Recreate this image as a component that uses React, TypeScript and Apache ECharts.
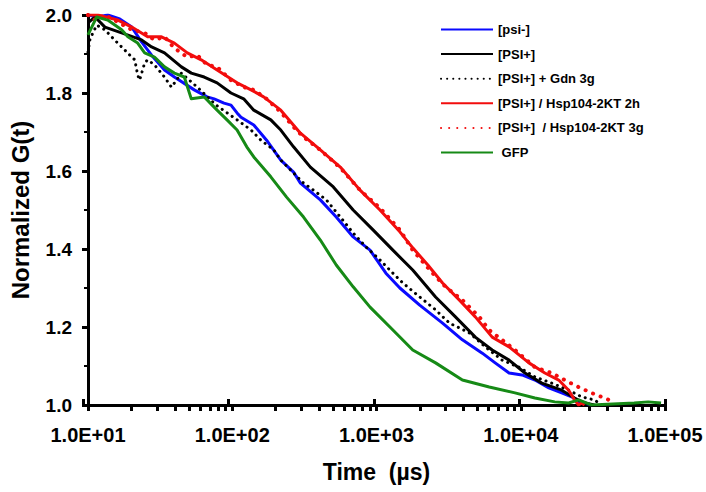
import React, { useEffect, useRef } from 'react';
import * as echarts from 'echarts';

const FONT = '"Liberation Sans", Arial, Helvetica, sans-serif';

// Axis ticks / labels
const xTickLabels = ['1.0E+01', '1.0E+02', '1.0E+03', '1.0E+04', '1.0E+05'];
const xDecades = [10, 100, 1000, 10000, 100000];
const xMinorMultipliers = [2, 3, 4, 5, 6, 7, 8, 9];

const seriesNames = [
  '[psi-]',
  '[PSI+]',
  '[PSI+] + Gdn 3g',
  '[PSI+] / Hsp104-2KT 2h',
  '[PSI+]  / Hsp104-2KT 3g',
  ' GFP',
];

// [psi-]
const psiMinusT = [10, 11.7, 13.7, 16.6, 20.1, 23.5, 27.6, 33.9, 39.7, 54.5, 67, 74.9, 87.7, 98, 108, 115, 141, 173, 217, 266, 297, 408, 526, 689, 902, 1162, 1452, 1993, 2870, 3939, 5410, 6647, 8300, 10200, 12540, 15650, 19230, 22540, 25180, 27690, 30950];
const psiMinusG = [2.0, 1.995, 2.0, 1.99, 1.969, 1.931, 1.897, 1.859, 1.841, 1.808, 1.79, 1.785, 1.774, 1.769, 1.749, 1.738, 1.718, 1.679, 1.628, 1.597, 1.569, 1.526, 1.482, 1.431, 1.397, 1.338, 1.3, 1.256, 1.21, 1.167, 1.133, 1.108, 1.082, 1.077, 1.064, 1.044, 1.031, 1.021, 1.008, 1.005, 1.0];

// [PSI+]
const psiPlusT = [10, 11.2, 13.1, 17.1, 23.5, 27.6, 33.9, 44.4, 52, 63.9, 78.5, 98, 120, 141, 185, 217, 266, 348, 502, 689, 946, 1299, 1783, 2568, 3526, 4842, 6338, 8300, 10700, 14000, 19230, 23630, 27690, 32450];
const psiPlusG = [1.98, 1.995, 1.969, 1.954, 1.936, 1.918, 1.903, 1.867, 1.851, 1.841, 1.826, 1.8, 1.785, 1.756, 1.731, 1.705, 1.662, 1.61, 1.559, 1.5, 1.449, 1.397, 1.346, 1.277, 1.226, 1.174, 1.141, 1.115, 1.082, 1.056, 1.038, 1.018, 1.005, 1.0];

// [PSI+] + Gdn 3g
const gdnT = [10, 10.3, 10.8, 11.5, 13.1, 15.3, 18, 19.5, 21.1, 22.1, 22.8, 24.7, 25.9, 28.9, 33.9, 37.9, 44.4, 57.2, 77.3, 108, 135, 158, 194, 217, 266, 312, 365, 449, 561, 689, 847, 1057, 1299, 1521, 1993, 2568, 3206, 4402, 5672, 7430, 9720, 12540, 16410, 21480, 26410, 32450, 36260];
const gdnG = [1.905, 1.936, 1.954, 1.974, 1.962, 1.936, 1.91, 1.897, 1.885, 1.846, 1.833, 1.877, 1.885, 1.872, 1.841, 1.815, 1.851, 1.815, 1.769, 1.731, 1.705, 1.679, 1.654, 1.628, 1.595, 1.569, 1.551, 1.526, 1.482, 1.441, 1.405, 1.372, 1.338, 1.313, 1.277, 1.244, 1.21, 1.185, 1.149, 1.115, 1.097, 1.072, 1.056, 1.038, 1.021, 1.013, 1.0];

// [PSI+] / Hsp104-2KT 2h
const hsp2hT = [10, 11.7, 16.1, 20.1, 25.9, 32.3, 39.7, 48.8, 60.9, 78.5, 108, 135, 165, 217, 297, 408, 561, 769, 1057, 1452, 1783, 2270, 2870, 3758, 4842, 6338, 8300, 11400, 14690, 18340, 21480, 23630, 25180, 26410, 27690];
const hsp2hG = [2.0, 2.0, 1.987, 1.969, 1.944, 1.944, 1.928, 1.903, 1.885, 1.859, 1.826, 1.808, 1.79, 1.756, 1.697, 1.654, 1.61, 1.551, 1.5, 1.444, 1.403, 1.359, 1.313, 1.269, 1.226, 1.174, 1.149, 1.108, 1.082, 1.064, 1.038, 1.013, 1.0, 1.005, 1.0];

// [PSI+] / Hsp104-2KT 3g
const hsp3gT = [10, 11.2, 13.1, 16.1, 20.1, 24.7, 28.9, 33.9, 39.7, 48.8, 57.2, 67, 78.5, 98, 120, 141, 173, 217, 266, 312, 408, 561, 769, 1057, 1452, 1783, 2450, 3009, 3939, 5160, 6045, 7430, 9120, 12540, 16410, 20170, 25180, 30950, 38020, 44000];
const hsp3gG = [2.0, 1.987, 2.0, 1.982, 1.962, 1.954, 1.936, 1.944, 1.915, 1.892, 1.897, 1.872, 1.867, 1.833, 1.815, 1.808, 1.785, 1.751, 1.713, 1.687, 1.654, 1.608, 1.551, 1.505, 1.449, 1.397, 1.338, 1.303, 1.269, 1.226, 1.192, 1.167, 1.141, 1.097, 1.082, 1.064, 1.046, 1.031, 1.018, 1.008];

// GFP
const gfpT = [10, 11.5, 13.7, 17.1, 18.9, 22.1, 24.7, 28.9, 33.9, 39.7, 46.5, 52, 63.9, 78.5, 92, 108, 126, 141, 185, 238, 312, 408, 526, 689, 902, 1239, 1783, 2568, 3939, 6045, 9120, 12540, 17210, 21480, 25180, 30950, 61200, 76400, 93900];
const gfpG = [1.949, 1.995, 1.987, 1.962, 1.944, 1.928, 1.903, 1.892, 1.867, 1.851, 1.841, 1.785, 1.79, 1.756, 1.731, 1.705, 1.662, 1.636, 1.585, 1.533, 1.482, 1.423, 1.359, 1.303, 1.251, 1.2, 1.141, 1.108, 1.064, 1.046, 1.031, 1.018, 1.008, 1.005, 1.013, 1.0, 1.005, 1.008, 1.005];

const zip = (t: number[], g: number[]) => t.map((v, i) => [v, g[i]]);

export default function App() {
  const ref = useRef<HTMLDivElement>(null);

  useEffect(() => {
    if (!ref.current) return;
    const chart = echarts.init(ref.current, undefined, { renderer: 'svg' });

    const minorTicks: number[] = [];
    xDecades.slice(0, -1).forEach((d) => xMinorMultipliers.forEach((m) => minorTicks.push(d * m)));
    const allTicks = [...xDecades, ...minorTicks];

    const gridRect = { left: 83, right: 41, top: 15, bottom: 87 };
    const logBase = { type: 'log' as const, logBase: 10, min: 10, max: 100000 };

    const mk = (name: string, t: number[], g: number[], color: string, width: number, dash?: number[], z = 2) => ({
      name,
      type: 'line',
      xAxisIndex: 0,
      yAxisIndex: 0,
      data: zip(t, g),
      symbol: 'none',
      showSymbol: false,
      legendIcon: 'none',
      z,
      lineStyle: dash
        ? { color, width, type: dash, cap: 'round' }
        : { color, width, type: 'solid', join: 'round' },
      itemStyle: { color },
    });

    chart.setOption({
      animation: false,
      backgroundColor: '#ffffff',
      grid: [
        { ...gridRect },
        { ...gridRect },
      ],
      xAxis: [
        {
          ...logBase,
          gridIndex: 0,
          position: 'bottom',
          axisLine: { show: true, lineStyle: { color: '#000', width: 3 } },
          axisTick: { show: true, inside: false, length: 6, customValues: allTicks, lineStyle: { color: '#000', width: 3 } },
          axisLabel: {
            show: true,
            margin: 20,
            color: '#000',
            fontFamily: FONT,
            fontWeight: 'bold',
            fontSize: 20,
            customValues: xDecades,
            formatter: (v: number) => xTickLabels[Math.round(Math.log10(v)) - 1] ?? '',
          },
          splitLine: { show: false },
          name: 'Time  (\u00b5s)',
          nameLocation: 'middle',
          nameGap: 55,
          nameTextStyle: { color: '#000', fontFamily: FONT, fontWeight: 'bold', fontSize: 23 },
        },
        {
          ...logBase,
          gridIndex: 1,
          position: 'bottom',
          axisLine: { show: false },
          axisTick: { show: true, inside: true, length: 6, customValues: xDecades, lineStyle: { color: '#000', width: 3 } },
          axisLabel: { show: false },
          splitLine: { show: false },
        },
      ],
      yAxis: [
        {
          type: 'value',
          gridIndex: 0,
          min: 1.0,
          max: 2.0,
          interval: 0.2,
          axisLine: { show: true, lineStyle: { color: '#000', width: 3 } },
          axisTick: { show: true, inside: false, length: 6, lineStyle: { color: '#000', width: 3 } },
          minorTick: { show: true, splitNumber: 2, length: 4, lineStyle: { color: '#000', width: 2 } },
          axisLabel: {
            margin: 16,
            color: '#000',
            fontFamily: FONT,
            fontWeight: 'bold',
            fontSize: 19,
            formatter: (v: number) => v.toFixed(1),
          },
          splitLine: { show: false },
          name: 'Normalized G(t)',
          nameLocation: 'middle',
          nameRotate: 90,
          nameGap: 56,
          nameTextStyle: { color: '#000', fontFamily: FONT, fontWeight: 'bold', fontSize: 24 },
        },
        {
          type: 'value',
          gridIndex: 1,
          min: 1.0,
          max: 2.0,
          interval: 0.2,
          axisLine: { show: false },
          axisTick: { show: false },
          axisLabel: { show: false },
          splitLine: { show: false },
        },
      ],
      legend: {
        orient: 'vertical',
        left: 440,
        top: 23,
        itemWidth: 52,
        itemHeight: 14,
        itemGap: 11.6,
        padding: 0,
        data: seriesNames,
        itemStyle: { opacity: 0 },
        textStyle: { color: '#000', fontFamily: FONT, fontWeight: 'bold', fontSize: 13 },
      },
      series: [
        mk(seriesNames[0], psiMinusT, psiMinusG, '#0a0aff', 3),
        mk(seriesNames[1], psiPlusT, psiPlusG, '#000000', 3),
        mk(seriesNames[2], gdnT, gdnG, '#000000', 3, [0.1, 6]),
        mk(seriesNames[3], hsp2hT, hsp2hG, '#f20d0d', 3),
        mk(seriesNames[4], hsp3gT, hsp3gG, '#f20d0d', 4, [0.1, 8]),
        mk(seriesNames[5], gfpT, gfpG, '#168a16', 3),
      ],
    });

    return () => chart.dispose();
  }, []);

  return (
    <div
      ref={ref}
      style={{ position: 'fixed', left: 0, top: 0, width: 706, height: 492, background: '#fff' }}
    />
  );
}
